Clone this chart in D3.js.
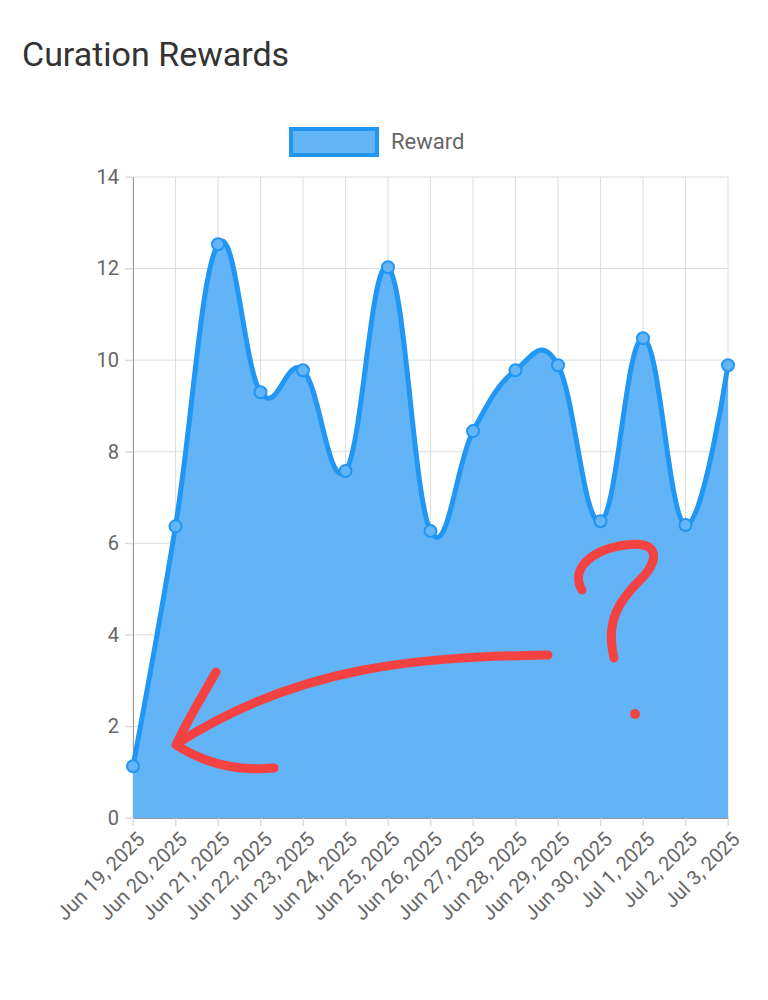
<!DOCTYPE html>
<html><head><meta charset="utf-8">
<script src="https://cdn.jsdelivr.net/npm/d3@7"></script>
<style>body{margin:0;background:#fff;font-family:Roboto,sans-serif}</style>
</head><body>
<svg id="chart" width="768" height="1000"></svg>
<script>
const dates = ["Jun 19, 2025","Jun 20, 2025","Jun 21, 2025","Jun 22, 2025","Jun 23, 2025","Jun 24, 2025","Jun 25, 2025","Jun 26, 2025","Jun 27, 2025","Jun 28, 2025","Jun 29, 2025","Jun 30, 2025","Jul 1, 2025","Jul 2, 2025","Jul 3, 2025"];
const rewards = [1.13, 6.37, 12.53, 9.3, 9.78, 7.58, 12.03, 6.27, 8.45, 9.78, 9.89, 6.48, 10.48, 6.4, 9.89];
const yTicks = [0, 2, 4, 6, 8, 10, 12, 14];

const svg = d3.select('#chart');
const plotL = 133, plotR = 728, plotT = 177, plotB = 818;

svg.append('text').attr('x', 22).attr('y', 66).attr('font-size', 34).attr('fill', '#333').text('Curation Rewards');

// legend
svg.append('rect').attr('x', 291).attr('y', 129).attr('width', 86).attr('height', 26)
  .attr('fill', '#64b5f6').attr('stroke', '#2196f3').attr('stroke-width', 4);
svg.append('text').attr('x', 391).attr('y', 149).attr('font-size', 22).attr('fill', '#666').text('Reward');

const x = d3.scalePoint().domain(dates).range([plotL, plotR]);
const y = d3.scaleLinear().domain([0, 14]).range([plotB, plotT]);

// grid
svg.append('g').selectAll('line').data(yTicks).join('line')
  .attr('x1', plotL - 8).attr('x2', plotR).attr('y1', d => y(d)).attr('y2', d => y(d))
  .attr('stroke', '#ddd');
svg.append('g').selectAll('line').data(dates).join('line')
  .attr('x1', d => x(d)).attr('x2', d => x(d)).attr('y1', plotT).attr('y2', plotB + 8)
  .attr('stroke', '#ddd');

const yAxis = svg.append('g').attr('transform', `translate(${plotL},0)`)
  .call(d3.axisLeft(y).tickValues(yTicks).tickSize(8).tickPadding(6));
yAxis.select('.domain').attr('stroke', '#999');
yAxis.selectAll('line').attr('stroke', '#ddd');
yAxis.selectAll('text').attr('font-size', 20).attr('fill', '#666').attr('font-family', 'Roboto');

const xAxis = svg.append('g').attr('transform', `translate(0,${plotB})`)
  .call(d3.axisBottom(x).tickSize(8).tickPadding(4));
xAxis.select('.domain').attr('stroke', '#999');
xAxis.selectAll('line').attr('stroke', '#ddd');
xAxis.selectAll('text').attr('font-size', 20).attr('fill', '#666').attr('font-family', 'Roboto')
  .attr('text-anchor', 'end').attr('dy', 0)
  .attr('transform', 'translate(4,14) rotate(-45)');

const curve = d3.curveCardinal.tension(-0.2);
const area = d3.area().x((d, i) => x(dates[i])).y0(plotB).y1(d => y(d)).curve(curve);
const line = d3.line().x((d, i) => x(dates[i])).y(d => y(d)).curve(curve);

svg.append('path').datum(rewards).attr('d', area).attr('fill', '#62b4f6');
svg.append('path').datum(rewards).attr('d', line).attr('fill', 'none')
  .attr('stroke', '#2196f3').attr('stroke-width', 5);
svg.append('g').selectAll('circle').data(rewards).join('circle')
  .attr('cx', (d, i) => x(dates[i])).attr('cy', d => y(d)).attr('r', 6)
  .attr('fill', '#64b5f6').attr('stroke', '#2196f3').attr('stroke-width', 2);

// hand-drawn annotations
const red = svg.append('g').attr('fill', 'none').attr('stroke', '#f44242')
  .attr('stroke-width', 9).attr('stroke-linecap', 'round').attr('stroke-linejoin', 'round');
red.append('path').attr('d', 'M548,655 C420,657 300,665 178,743');
red.append('path').attr('d', 'M216,672 C200,700 185,725 176,745 C200,760 230,772 274,768');
red.append('path').attr('d', 'M582,590 C570,570 590,550 625,545 C660,540 660,560 640,580 C620,600 605,620 614,658');
svg.append('circle').attr('cx', 635).attr('cy', 714).attr('r', 5).attr('fill', '#f44242');
</script>
</body></html>
